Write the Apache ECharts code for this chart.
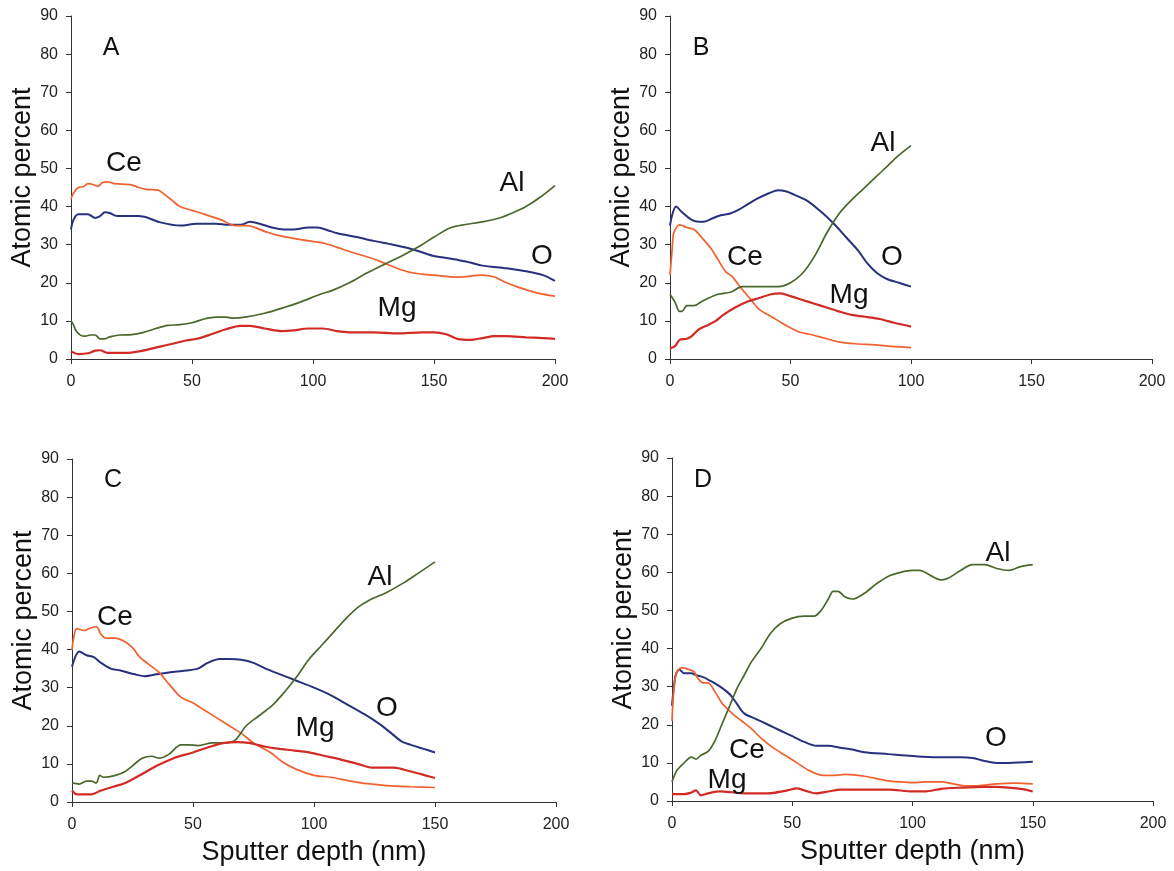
<!DOCTYPE html>
<html>
<head>
<meta charset="utf-8">
<script src="https://cdn.jsdelivr.net/npm/echarts@6/dist/echarts.min.js"></script>
<style>
html,body{margin:0;padding:0;background:#fff;}
#chart{width:1174px;height:871px;}
</style>
</head>
<body>
<div id="chart"></div>
<script>
// ---- Data: [depth (nm), atomic percent] ----
const xTicks = [0, 50, 100, 150, 200];
const yTicks = [0, 10, 20, 30, 40, 50, 60, 70, 80, 90];
const elements = ['O', 'Ce', 'Al', 'Mg'];

const A_O = [[0,34],[1,36.5],[3,38],[7,38],[10,37],[12,37.5],[14,38.5],[16,38.3],[19,37.5],[28,37.5],[32,37],[36,36],[45,35],[52,35.5],[60,35.5],[65,35.2],[70,35.2],[74,36],[78,35.5],[83,34.5],[88,34],[92,34],[98,34.5],[102,34.5],[106,33.8],[110,33],[118,32],[125,31],[133,30],[140,29],[145,28],[150,27],[160,26],[165,25.3],[170,24.5],[180,23.8],[188,23],[195,22],[200,20.5]];
const A_Ce = [[0,42],[1,43.5],[3,45],[5,45.2],[7,46],[9,45.8],[11,45.3],[13,46.3],[15,46.5],[18,46],[25,45.7],[28,45],[31,44.5],[36,44.3],[39,43],[42,41.5],[45,40],[50,39],[55,38],[62,36.5],[68,35],[73,35],[80,33.5],[85,32.5],[95,31.3],[105,30.3],[110,29.3],[116,28],[124,26.5],[130,25],[136,23.5],[142,22.5],[150,22],[160,21.5],[170,22],[175,21.5],[180,20],[185,18.8],[193,17.3],[200,16.5]];
const A_Al = [[0,10],[1,9],[2,7.5],[4,6.2],[6,6],[8,6.3],[10,6.3],[12,5.3],[14,5.3],[16,5.8],[20,6.3],[25,6.4],[30,7],[35,8],[40,8.8],[45,9],[50,9.5],[55,10.5],[60,11],[64,11],[67,10.7],[72,11],[80,12],[88,13.5],[95,15],[103,17],[108,18],[115,20],[122,22.5],[130,25],[138,27.5],[145,30],[150,32],[157,34.5],[163,35.3],[170,36],[177,37],[183,38.5],[188,40],[194,42.5],[200,45.5]];
const A_Mg = [[0,2],[3,1.3],[7,1.5],[10,2.2],[12,2.3],[15,1.6],[22,1.6],[28,2],[35,3],[42,4],[47,4.8],[52,5.3],[58,6.5],[64,7.8],[70,8.7],[74,8.7],[80,8],[87,7.3],[92,7.5],[98,8],[104,8],[110,7.3],[115,7],[125,7],[135,6.7],[145,7],[150,7],[155,6.5],[160,5.2],[165,5],[170,5.5],[175,6],[180,6],[188,5.7],[195,5.5],[200,5.3]];

const B_O = [[0,35],[1,38],[2.5,40],[5,38.5],[9,36.5],[12,36],[14,36],[18,37],[21,37.7],[25,38.2],[28,39],[32,40.5],[36,42],[41,43.5],[45,44.3],[48,44],[52,43],[57,41.5],[62,39],[68,35.5],[73,32],[78,28.5],[82,25],[86,22.5],[90,21],[95,20],[100,19]];
const B_Ce = [[0,22],[0.8,28],[1.5,33],[3,34.8],[4,35.2],[7,34.5],[10,34],[13,32],[17,29],[20,26],[23,23],[26,21.5],[29,19],[33,16],[37,13],[41,11.5],[45,10],[49,8.5],[54,7],[58,6.5],[64,5.5],[70,4.5],[77,4],[85,3.7],[92,3.3],[100,3]];
const B_Al = [[0,17],[2,15],[4,12.5],[5,12.5],[7,14],[10,14],[13,15],[16,16],[20,17],[25,17.5],[30,19],[35,19],[40,19],[45,19],[50,20],[55,22.5],[60,27],[65,33],[70,38],[75,41.5],[80,44.5],[85,47.5],[90,50.5],[95,53.5],[100,56]];
const B_Mg = [[0,2.8],[2,3.3],[4,5],[7,5.3],[9,6],[12,7.8],[16,9],[19,10],[22,11.5],[27,13.5],[32,15],[37,16],[42,17],[46,17.2],[50,16.5],[55,15.5],[60,14.5],[65,13.5],[70,12.5],[76,11.5],[82,11],[87,10.5],[93,9.5],[100,8.5]];

const C_O = [[0,35.5],[3,39.5],[6,38.5],[9,38],[12,36.5],[16,35],[20,34.5],[26,33.5],[30,33],[35,33.5],[40,34],[47,34.5],[52,35],[56,36.5],[61,37.5],[65,37.5],[70,37.3],[75,36.5],[80,35],[86,33.5],[92,32],[100,30],[107,28],[114,25.5],[121,23],[127,20.5],[132,18],[136,16],[140,15],[145,14],[150,13]];
const C_Ce = [[0,40],[2,45.5],[5,45],[7,45.5],[10,46],[12,44],[14,43],[18,43],[22,42],[25,40.5],[28,38],[32,36],[36,34],[40,31],[45,27.5],[50,26],[55,24],[60,22],[65,20],[70,18],[75,15.5],[82,13],[87,10.5],[93,8.5],[100,7],[107,6.5],[115,5.5],[122,4.8],[130,4.3],[140,4],[150,3.8]];
const C_Al = [[0,5],[3,4.7],[6,5.5],[8,5.5],[10,5],[11.5,7],[13,6.5],[18,7],[22,8],[25,9.5],[29,11.5],[33,12],[36,11.5],[40,12.5],[45,15],[48,15],[52,14.8],[58,15.5],[62,15.5],[67,16],[72,20],[77,22.5],[83,25.5],[88,29],[93,33],[98,37.5],[103,41],[108,44.5],[113,48],[118,51],[123,53],[130,55],[137,57.5],[143,60],[150,63]];
const C_Mg = [[0,3],[2,2],[8,2],[12,3],[17,4],[22,5],[28,7],[35,9.5],[42,11.5],[50,13],[57,14.5],[63,15.5],[68,15.7],[73,15.5],[80,14.5],[85,14],[92,13.5],[98,13],[105,12],[112,11],[118,10],[124,9],[133,9],[140,8],[146,7],[150,6.3]];

const D_O = [[0,25],[1.5,33],[3,34.5],[5,33.5],[8,33.5],[10,33],[13,32.5],[16,31.5],[20,30],[24,28],[27,25.5],[30,23],[35,21.5],[40,20],[45,18.5],[50,17],[55,15.5],[60,14.5],[65,14.5],[70,14],[75,13.5],[80,12.8],[90,12.3],[100,11.8],[110,11.5],[120,11.5],[125,11.3],[130,10.5],[135,10],[140,10],[150,10.3]];
const D_Ce = [[0,21],[1.5,33],[4,35],[7,34.5],[9,34],[11,32],[13,31],[15,31],[18,28.5],[21,25.5],[25,23],[29,21],[33,19],[37,16.5],[42,14],[47,12],[52,10],[57,8],[62,6.8],[67,6.7],[72,7],[80,6.5],[88,5.5],[95,5],[100,4.8],[105,5],[112,5],[117,4.5],[122,4],[127,4],[135,4.5],[143,4.7],[150,4.5]];
const D_Al = [[0,5],[2,8],[5,10],[8,11.5],[10,11],[12,12],[15,13],[18,16],[21,20.5],[24,25],[27,29.5],[30,33],[33,36.5],[37,40],[41,44],[45,46.5],[50,48],[55,48.5],[59,48.5],[62,50],[65,53],[67,55],[69,55],[72,53.5],[75,53],[80,54.5],[85,57],[90,59],[95,60],[100,60.5],[103,60.5],[108,59],[112,58],[115,58.5],[120,60.5],[125,62],[130,62],[135,61],[140,60.5],[145,61.5],[150,62]];
const D_Mg = [[0,1.8],[5,1.8],[8,2.2],[10,2.8],[12,1.5],[15,2],[20,2.5],[25,2.3],[30,2],[40,2],[48,2.8],[52,3.3],[55,2.8],[60,2],[65,2.5],[70,3],[80,3],[90,3],[100,2.5],[105,2.5],[112,3.2],[120,3.5],[130,3.7],[135,3.7],[140,3.5],[147,3],[150,2.5]];

const panelData = {
  A: {O: A_O, Ce: A_Ce, Al: A_Al, Mg: A_Mg},
  B: {O: B_O, Ce: B_Ce, Al: B_Al, Mg: B_Mg},
  C: {O: C_O, Ce: C_Ce, Al: C_Al, Mg: C_Mg},
  D: {O: D_O, Ce: D_Ce, Al: D_Al, Mg: D_Mg}
};

// ---- Layout / style ----
const FONT = '"Liberation Sans", Arial, sans-serif';
const colors = {O: '#29307e', Ce: '#f2602e', Al: '#4b672c', Mg: '#d22b26'};
const widths = {O: 2, Ce: 1.7, Al: 1.7, Mg: 2.2};
const panels = [
  {id: 'A', grid: {left: 71, top: 16, width: 484, height: 343}, xTitle: false},
  {id: 'B', grid: {left: 670, top: 16, width: 482, height: 343}, xTitle: false},
  {id: 'C', grid: {left: 72, top: 459, width: 484, height: 343}, xTitle: true},
  {id: 'D', grid: {left: 672, top: 458, width: 481, height: 343}, xTitle: true}
];

const labelPos = {
  A: {panel: [111, 48], Ce: [124, 163], Al: [512, 183], O: [542, 256], Mg: [397, 308]},
  B: {panel: [701, 48], Ce: [745, 257], Al: [883, 143], O: [892, 257], Mg: [849, 295]},
  C: {panel: [113, 480], Ce: [115, 617], Al: [380, 577], O: [387, 708], Mg: [315, 728]},
  D: {panel: [703, 480], Ce: [747, 750], Al: [998, 553], O: [996, 738], Mg: [727, 780]}
};

const grids = [], xAxes = [], yAxes = [], series = [], graphics = [];
panels.forEach((p, i) => {
  grids.push(Object.assign({containLabel: false}, p.grid));
  xAxes.push({
    type: 'value', gridIndex: i, min: xTicks[0], max: xTicks[xTicks.length - 1], interval: 50,
    splitLine: {show: false},
    axisLine: {show: true, lineStyle: {color: '#333', width: 1}},
    axisTick: {show: true, inside: false, length: 5, lineStyle: {color: '#333'}},
    axisLabel: {color: '#222', fontSize: 16, fontFamily: FONT, margin: 15},
    name: p.xTitle ? 'Sputter depth (nm)' : '',
    nameLocation: 'middle', nameGap: 37,
    nameTextStyle: {color: '#111', fontSize: 27, fontFamily: FONT}
  });
  yAxes.push({
    type: 'value', gridIndex: i, min: yTicks[0], max: yTicks[yTicks.length - 1], interval: 10,
    splitLine: {show: false},
    axisLine: {show: true, lineStyle: {color: '#333', width: 1}},
    axisTick: {show: true, inside: false, length: 5, lineStyle: {color: '#333'}},
    axisLabel: {color: '#222', fontSize: 16, fontFamily: FONT, margin: 13},
    name: 'Atomic percent',
    nameLocation: 'middle', nameGap: 35,
    nameTextStyle: {color: '#111', fontSize: 27, fontFamily: FONT, padding: [0, 0, 0, 20]}
  });
  elements.forEach(el => {
    series.push({
      type: 'line', name: p.id + '-' + el, xAxisIndex: i, yAxisIndex: i,
      data: panelData[p.id][el], showSymbol: false, smooth: 0.3,
      lineStyle: {color: colors[el], width: widths[el]}, itemStyle: {color: colors[el]},
      z: el === 'Mg' ? 3 : 2
    });
  });
  const lp = labelPos[p.id];
  graphics.push({type: 'text', x: lp.panel[0], y: lp.panel[1], z: 10,
    style: {text: p.id, font: '25px ' + FONT, fill: '#111', align: 'center', verticalAlign: 'middle'}});
  elements.forEach(el => {
    graphics.push({type: 'text', x: lp[el][0], y: lp[el][1], z: 10,
      style: {text: el, font: '28px ' + FONT, fill: '#111', align: 'center', verticalAlign: 'middle'}});
  });
});

const chart = echarts.init(document.getElementById('chart'), null, {renderer: 'canvas'});
chart.setOption({
  backgroundColor: '#fff',
  animation: false,
  grid: grids, xAxis: xAxes, yAxis: yAxes, series: series,
  graphic: graphics
});
</script>
</body>
</html>
